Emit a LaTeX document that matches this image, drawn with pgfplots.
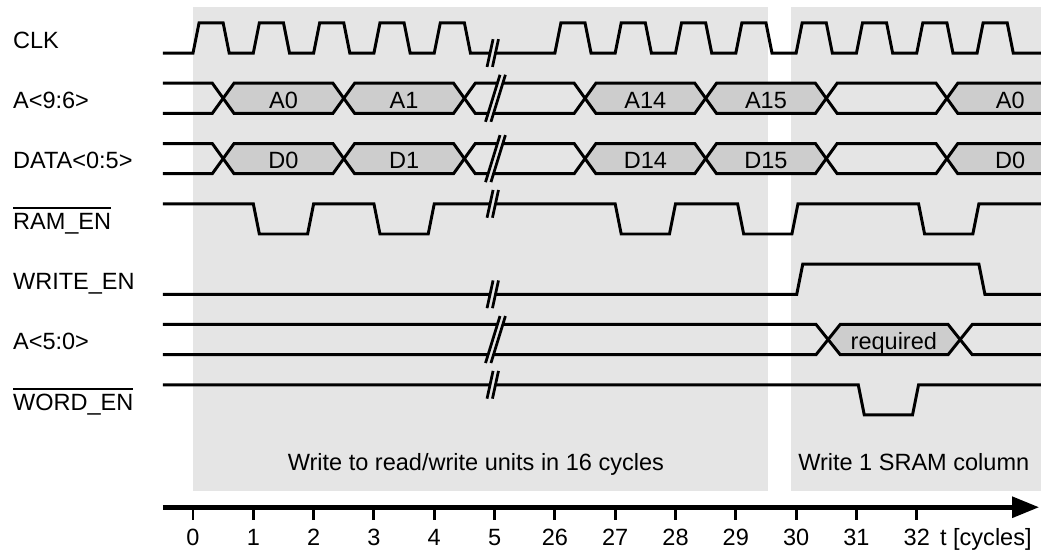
\documentclass[border=0pt]{standalone}
\usepackage{fontspec}
\setmainfont{Liberation Sans}
\usepackage{pgfplots}
\pgfplotsset{compat=1.18}
\usetikzlibrary{arrows.meta}
\definecolor{bg}{HTML}{E5E5E5}
\definecolor{bus}{HTML}{CDCDCD}
% overlined signal name (active low)
\newcommand\ovl[1]{\setbox0=\hbox{#1}\rlap{\rule[\dimexpr\ht0+1.9pt\relax]{\wd0}{0.7pt}}\box0}
\begin{document}
\begin{tikzpicture}[every node/.append style={font=\fontsize{11.1}{13}\selectfont, inner sep=0pt}]
\begin{axis}[
    x=1cm, y=1cm,
    xmin=-3.2, xmax=14.06, ymin=-0.74, ymax=8.41,
    hide axis, clip=false,
    sig/.style={black, line width=1.4pt},
    brk/.style={black, line width=1.3pt},
    gap/.style={fill=bg, draw=none},
]
\coordinate (bl) at (axis cs:-3.2,-0.74);
\coordinate (tr) at (axis cs:14.06,8.41);

% phase backgrounds
\addplot[fill=bg, draw=none] coordinates {(0,0.275)(9.53,0.275)(9.53,8.29)(0,8.29)};
\addplot[fill=bg, draw=none] coordinates {(9.92,0.275)(14.06,0.275)(14.06,8.29)(9.92,8.29)};

% bus fills A<9:6>
\addplot[fill=bus, draw=none] coordinates {(0.5,6.78)(0.68,7.03)(2.32,7.03)(2.5,6.78)(2.32,6.53)(0.68,6.53)};
\addplot[fill=bus, draw=none] coordinates {(2.5,6.78)(2.68,7.03)(4.32,7.03)(4.5,6.78)(4.32,6.53)(2.68,6.53)};
\addplot[fill=bus, draw=none] coordinates {(6.5,6.78)(6.68,7.03)(8.32,7.03)(8.5,6.78)(8.32,6.53)(6.68,6.53)};
\addplot[fill=bus, draw=none] coordinates {(8.5,6.78)(8.68,7.03)(10.32,7.03)(10.5,6.78)(10.32,6.53)(8.68,6.53)};
\addplot[fill=bus, draw=none] coordinates {(12.5,6.78)(12.68,7.03)(14.06,7.03)(14.06,6.53)(12.68,6.53)};
% bus fills DATA<0:5>
\addplot[fill=bus, draw=none] coordinates {(0.5,5.78)(0.68,6.03)(2.32,6.03)(2.5,5.78)(2.32,5.53)(0.68,5.53)};
\addplot[fill=bus, draw=none] coordinates {(2.5,5.78)(2.68,6.03)(4.32,6.03)(4.5,5.78)(4.32,5.53)(2.68,5.53)};
\addplot[fill=bus, draw=none] coordinates {(6.5,5.78)(6.68,6.03)(8.32,6.03)(8.5,5.78)(8.32,5.53)(6.68,5.53)};
\addplot[fill=bus, draw=none] coordinates {(8.5,5.78)(8.68,6.03)(10.32,6.03)(10.5,5.78)(10.32,5.53)(8.68,5.53)};
\addplot[fill=bus, draw=none] coordinates {(12.5,5.78)(12.68,6.03)(14.06,6.03)(14.06,5.53)(12.68,5.53)};
% bus fill A<5:0>
\addplot[fill=bus, draw=none] coordinates {(10.53,2.78)(10.73,3.03)(12.52,3.03)(12.72,2.78)(12.52,2.53)(10.73,2.53)};

% CLK
\addplot[sig] coordinates {
  (-0.5,7.53)(0,7.53)(0.1,8.03)(0.5,8.03)(0.6,7.53)
  (1,7.53)(1.1,8.03)(1.5,8.03)(1.6,7.53)
  (2,7.53)(2.1,8.03)(2.5,8.03)(2.6,7.53)
  (3,7.53)(3.1,8.03)(3.5,8.03)(3.6,7.53)
  (4,7.53)(4.1,8.03)(4.5,8.03)(4.6,7.53)
  (6,7.53)(6.1,8.03)(6.5,8.03)(6.6,7.53)
  (7,7.53)(7.1,8.03)(7.5,8.03)(7.6,7.53)
  (8,7.53)(8.1,8.03)(8.5,8.03)(8.6,7.53)
  (9,7.53)(9.1,8.03)(9.5,8.03)(9.6,7.53)
  (10,7.53)(10.1,8.03)(10.5,8.03)(10.6,7.53)
  (11,7.53)(11.1,8.03)(11.5,8.03)(11.6,7.53)
  (12,7.53)(12.1,8.03)(12.5,8.03)(12.6,7.53)
  (13,7.53)(13.1,8.03)(13.5,8.03)(13.6,7.53)
  (14.06,7.53)};

% A<9:6>
\addplot[sig] coordinates {(-0.5,7.03)(0.32,7.03)(0.68,6.53)(2.32,6.53)(2.68,7.03)(4.32,7.03)(4.68,6.53)(6.32,6.53)(6.68,7.03)(8.32,7.03)(8.68,6.53)(10.32,6.53)(10.68,7.03)(12.32,7.03)(12.68,6.53)(14.06,6.53)};
\addplot[sig] coordinates {(-0.5,6.53)(0.32,6.53)(0.68,7.03)(2.32,7.03)(2.68,6.53)(4.32,6.53)(4.68,7.03)(6.32,7.03)(6.68,6.53)(8.32,6.53)(8.68,7.03)(10.32,7.03)(10.68,6.53)(12.32,6.53)(12.68,7.03)(14.06,7.03)};
% DATA<0:5>
\addplot[sig] coordinates {(-0.5,6.03)(0.32,6.03)(0.68,5.53)(2.32,5.53)(2.68,6.03)(4.32,6.03)(4.68,5.53)(6.32,5.53)(6.68,6.03)(8.32,6.03)(8.68,5.53)(10.32,5.53)(10.68,6.03)(12.32,6.03)(12.68,5.53)(14.06,5.53)};
\addplot[sig] coordinates {(-0.5,5.53)(0.32,5.53)(0.68,6.03)(2.32,6.03)(2.68,5.53)(4.32,5.53)(4.68,6.03)(6.32,6.03)(6.68,5.53)(8.32,5.53)(8.68,6.03)(10.32,6.03)(10.68,5.53)(12.32,5.53)(12.68,6.03)(14.06,6.03)};
% RAM_EN
\addplot[sig] coordinates {(-0.5,5.03)(1,5.03)(1.1,4.53)(1.9,4.53)(2,5.03)(3,5.03)(3.1,4.53)(3.9,4.53)(4,5.03)(7,5.03)(7.1,4.53)(7.9,4.53)(8,5.03)(9.03,5.03)(9.13,4.53)(9.93,4.53)(10.03,5.03)(12.03,5.03)(12.13,4.53)(12.93,4.53)(13.03,5.03)(14.06,5.03)};
% WRITE_EN
\addplot[sig] coordinates {(-0.5,3.53)(10.01,3.53)(10.11,4.03)(13.03,4.03)(13.13,3.53)(14.06,3.53)};
% A<5:0>
\addplot[sig] coordinates {(-0.5,3.03)(10.33,3.03)(10.73,2.53)(12.52,2.53)(12.92,3.03)(14.06,3.03)};
\addplot[sig] coordinates {(-0.5,2.53)(10.33,2.53)(10.73,3.03)(12.52,3.03)(12.92,2.53)(14.06,2.53)};
% WORD_EN
\addplot[sig] coordinates {(-0.5,2.03)(11.03,2.03)(11.13,1.53)(11.93,1.53)(12.03,2.03)(14.06,2.03)};

% time breaks: gaps
\addplot[gap] coordinates {(4.875,7.30)(4.975,7.76)(5.065,7.76)(4.965,7.30)};
\addplot[gap] coordinates {(4.85,6.39)(5.09,7.17)(5.18,7.17)(4.94,6.39)};
\addplot[gap] coordinates {(4.85,5.39)(5.09,6.17)(5.18,6.17)(4.94,5.39)};
\addplot[gap] coordinates {(4.875,4.80)(4.975,5.26)(5.065,5.26)(4.965,4.80)};
\addplot[gap] coordinates {(4.875,3.30)(4.975,3.76)(5.065,3.76)(4.965,3.30)};
\addplot[gap] coordinates {(4.85,2.39)(5.09,3.17)(5.18,3.17)(4.94,2.39)};
\addplot[gap] coordinates {(4.875,1.80)(4.975,2.26)(5.065,2.26)(4.965,1.80)};
% time breaks: slashes
\addplot[brk, unbounded coords=jump] coordinates {
  (4.875,7.30)(4.975,7.76)(nan,nan)(4.965,7.30)(5.065,7.76)(nan,nan)
  (4.85,6.39)(5.09,7.17)(nan,nan)(4.94,6.39)(5.18,7.17)(nan,nan)
  (4.85,5.39)(5.09,6.17)(nan,nan)(4.94,5.39)(5.18,6.17)(nan,nan)
  (4.875,4.80)(4.975,5.26)(nan,nan)(4.965,4.80)(5.065,5.26)(nan,nan)
  (4.875,3.30)(4.975,3.76)(nan,nan)(4.965,3.30)(5.065,3.76)(nan,nan)
  (4.85,2.39)(5.09,3.17)(nan,nan)(4.94,2.39)(5.18,3.17)(nan,nan)
  (4.875,1.80)(4.975,2.26)(nan,nan)(4.965,1.80)(5.065,2.26)};

% bus contents
\node[anchor=base] at (axis cs:1.5,6.61) {A0};
\node[anchor=base] at (axis cs:3.5,6.61) {A1};
\node[anchor=base] at (axis cs:7.5,6.61) {A14};
\node[anchor=base] at (axis cs:9.5,6.61) {A15};
\node[anchor=base] at (axis cs:13.55,6.61) {A0};
\node[anchor=base] at (axis cs:1.5,5.61) {D0};
\node[anchor=base] at (axis cs:3.5,5.61) {D1};
\node[anchor=base] at (axis cs:7.5,5.61) {D14};
\node[anchor=base] at (axis cs:9.5,5.61) {D15};
\node[anchor=base] at (axis cs:13.55,5.61) {D0};
\node[anchor=base] at (axis cs:11.62,2.61) {required};

% signal names
\node[anchor=base west] at (axis cs:-2.99,7.61) {CLK};
\node[anchor=base west] at (axis cs:-2.99,6.61) {A<9:6>};
\node[anchor=base west] at (axis cs:-2.99,5.61) {DATA<0:5>};
\node[anchor=base west] at (axis cs:-2.99,4.61) {\ovl{RAM\_EN}};
\node[anchor=base west] at (axis cs:-2.99,3.61) {WRITE\_EN};
\node[anchor=base west] at (axis cs:-2.99,2.61) {A<5:0>};
\node[anchor=base west] at (axis cs:-2.99,1.61) {\ovl{WORD\_EN}};

% phase captions
\node[anchor=base] at (axis cs:4.69,0.61) {Write to read/write units in 16 cycles};
\node[anchor=base] at (axis cs:11.95,0.61) {Write 1 SRAM column};

% time axis
\addplot[black, line width=2.3pt, -{Triangle[length=12.8pt,width=9.6pt]}] coordinates {(-0.5,0)(14.03,0)};
\addplot[black, line width=1.4pt, unbounded coords=jump] coordinates {
  (0,0)(0,-0.22)(nan,nan)(1,0)(1,-0.22)(nan,nan)(2,0)(2,-0.22)(nan,nan)
  (3,0)(3,-0.22)(nan,nan)(4,0)(4,-0.22)(nan,nan)(5,0)(5,-0.22)(nan,nan)
  (6,0)(6,-0.22)(nan,nan)(7,0)(7,-0.22)(nan,nan)(8,0)(8,-0.22)(nan,nan)
  (9,0)(9,-0.22)(nan,nan)(10,0)(10,-0.22)(nan,nan)(11,0)(11,-0.22)(nan,nan)
  (12,0)(12,-0.22)};
\node[anchor=base] at (axis cs:0,-0.64) {0};
\node[anchor=base] at (axis cs:1,-0.64) {1};
\node[anchor=base] at (axis cs:2,-0.64) {2};
\node[anchor=base] at (axis cs:3,-0.64) {3};
\node[anchor=base] at (axis cs:4,-0.64) {4};
\node[anchor=base] at (axis cs:5,-0.64) {5};
\node[anchor=base] at (axis cs:6,-0.64) {26};
\node[anchor=base] at (axis cs:7,-0.64) {27};
\node[anchor=base] at (axis cs:8,-0.64) {28};
\node[anchor=base] at (axis cs:9,-0.64) {29};
\node[anchor=base] at (axis cs:10,-0.64) {30};
\node[anchor=base] at (axis cs:11,-0.64) {31};
\node[anchor=base] at (axis cs:12,-0.64) {32};
\node[anchor=base west] at (axis cs:12.38,-0.64) {t [cycles]};
\end{axis}
\pgfresetboundingbox
\useasboundingbox (bl) rectangle (tr);
\end{tikzpicture}
\end{document}
